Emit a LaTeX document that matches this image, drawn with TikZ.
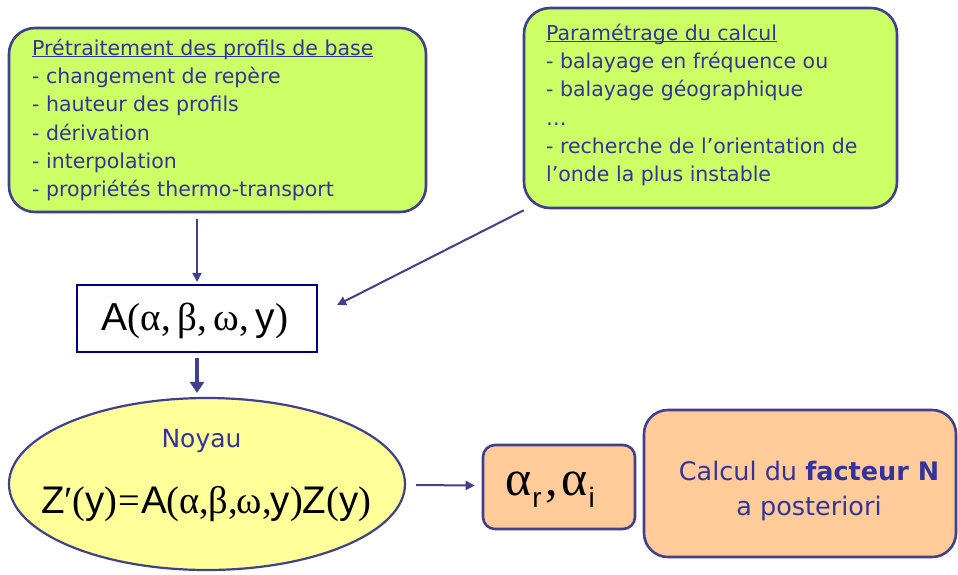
\documentclass[tikz,border=0pt]{standalone}
\usepackage{fontspec}
\setmainfont{DejaVu Sans}
\newfontfamily\arialf{Liberation Sans}
\newfontfamily\timesf{Liberation Serif}
\usetikzlibrary{shapes.geometric,arrows.meta}
\definecolor{bordc}{RGB}{64,64,140}
\definecolor{txtc}{RGB}{51,51,153}
\definecolor{greenf}{RGB}{204,255,102}
\definecolor{yellf}{RGB}{255,255,153}
\definecolor{orf}{RGB}{255,204,153}
\definecolor{navyb}{RGB}{0,0,128}
\newcommand{\titleul}[1]{\underline{\smash{#1}}}
\tikzset{
  greenbox/.style={draw=bordc,line width=2.6pt,fill=greenf,rounded corners=26pt,inner sep=0pt},
  orbox/.style={draw=bordc,line width=2.6pt,fill=orf,inner sep=0pt},
  listtxt/.style={text=txtc,align=left,inner sep=0pt,anchor=base west,font=\fontsize{20.5}{28.3}\selectfont},
  conn/.style={draw=bordc,line width=2pt,-{Triangle[length=9pt,width=9pt]}},
  thickconn/.style={draw=bordc,line width=4pt,-{Triangle[length=11pt,width=14pt]}},
}
\begin{document}
\begin{tikzpicture}[x=1pt,y=-1pt]
\useasboundingbox[fill=white] (0,0) rectangle (958,574);
% box 1
\node[greenbox,minimum width=417pt,minimum height=184pt] (pre) at (217.5,120) {};
\node[listtxt] (pretxt) at (32,196.7) {\titleul{Prétraitement des profils de base}\\
- changement de repère\\
- hauteur des profils\\
- dérivation\\
- interpolation\\
- propriétés thermo-transport};
% box 2
\node[greenbox,minimum width=373pt,minimum height=200pt] (par) at (710.5,108) {};
\node[listtxt] (partxt) at (546,181.7) {\titleul{Paramétrage du calcul}\\
- balayage en fréquence ou\\
- balayage géographique\\
…\\
- recherche de l’orientation de\\
l’onde la plus instable};
% A box
\node[draw=navyb,line width=2.2pt,fill=white,minimum width=240pt,minimum height=67pt,inner sep=0pt] (abox) at (197,318.5) {};
\node[inner sep=0pt,anchor=base] (atxt) at (195,330) {\fontsize{39}{42}\selectfont\arialf A\timesf(α,\,β,\,ω,\,\arialf y\timesf)};
% ellipse
\node[ellipse,draw=bordc,line width=2.2pt,fill=yellf,minimum width=396pt,minimum height=172pt,inner sep=0pt] (noyau) at (207,484) {};
\node[text=txtc,inner sep=0pt,anchor=base] (noyaut) at (201.5,447) {\fontsize{25}{28}\selectfont Noyau};
\node[inner sep=0pt,anchor=base] (form) at (206.5,513) {\fontsize{38.5}{42}\selectfont\arialf Z\kern-1pt\timesf′(\arialf y\timesf)\kern1pt=\kern1pt\arialf A\timesf(α,\kern-1ptβ,\kern-1ptω,\kern-1pt\arialf y\timesf)\arialf Z\timesf(\arialf y\timesf)};
% alpha box
\node[orbox,rounded corners=12pt,minimum width=152pt,minimum height=84pt] (alph) at (559,487) {};
\node[inner sep=0pt,anchor=base] (alphtxt) at (550,495) {\fontsize{50}{54}\selectfont\timesf α\kern1pt\raisebox{-12pt}{\fontsize{28}{30}\selectfont\arialf r}\kern4pt,\kern3pt α\kern1pt\raisebox{-12pt}{\fontsize{28}{30}\selectfont\arialf i}};
% Calcul box
\node[orbox,rounded corners=24pt,minimum width=312pt,minimum height=147pt] (calc) at (800,483.5) {};
\node[text=txtc,align=center,inner sep=0pt,anchor=base,font=\fontsize{25.5}{35}\selectfont] (calctxt) at (809,515) {Calcul du \textbf{facteur N}\\a posteriori};
% connectors
\draw[conn] ([yshift=-6pt]abox.north |- pre.south) -- ([yshift=2pt]abox.north);
\draw[conn] ([xshift=1pt,yshift=-1pt]par.south west) -- ([xshift=19pt,yshift=13.5pt]abox.east);
\draw[thickconn] ([yshift=-5pt]abox.south) -- ([yshift=4pt]noyau.north -| abox.south);
\draw[conn] ([xshift=10pt,yshift=-1pt]noyau.east) -- ([xshift=-7pt,yshift=1.5pt]alph.west);
\end{tikzpicture}
\end{document}
